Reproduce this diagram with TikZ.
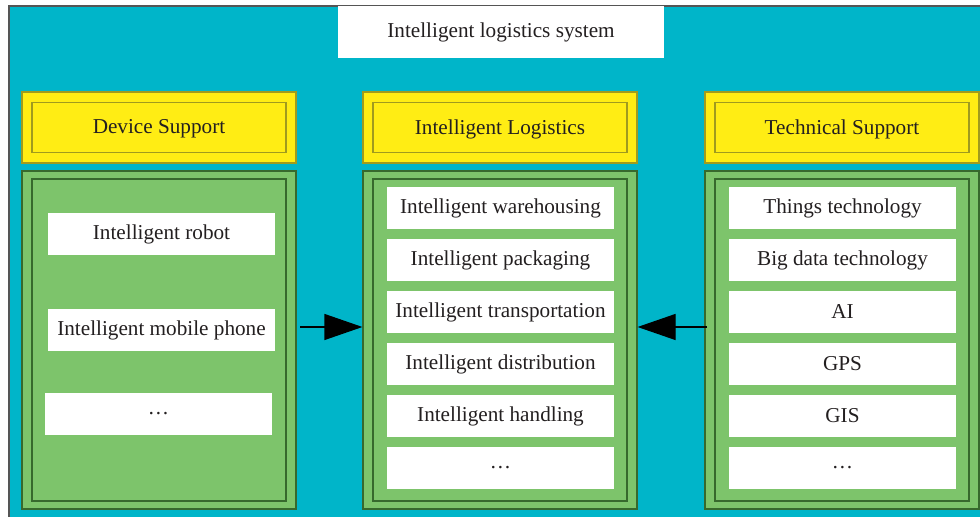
\documentclass[tikz,border=0pt]{standalone}
\usepackage{fontspec}
\setmainfont{Liberation Serif}
\usetikzlibrary{arrows.meta,positioning}

\definecolor{sysblue}{RGB}{0,181,201}
\definecolor{framegray}{RGB}{85,85,85}
\definecolor{headyellow}{RGB}{255,237,20}
\definecolor{headline}{RGB}{160,155,30}
\definecolor{panelgreen}{RGB}{125,196,107}
\definecolor{panelline}{RGB}{55,105,45}
\definecolor{textgray}{RGB}{35,31,32}

\begin{document}
\begin{tikzpicture}[x=0.5pt,y=-0.5pt,
     font=\fontsize{10.6}{12}\selectfont,
     every node/.style={inner sep=0pt,text=textgray},
     head/.style={rectangle,draw=headline,fill=headyellow,line width=0.6pt,minimum width=137pt,minimum height=35.5pt},
     headin/.style={rectangle,draw=headline,line width=0.6pt,minimum width=127pt,minimum height=25pt,text depth=0.6pt},
     panel/.style={rectangle,draw=panelline,fill=panelgreen,line width=0.6pt,minimum width=137pt,minimum height=169pt},
     panelin/.style={rectangle,draw=panelline,line width=0.6pt,minimum width=127pt,minimum height=161pt},
     item/.style={rectangle,fill=white,minimum width=113.5pt,minimum height=21pt,node distance=4.6pt},
     conn/.style={draw=black,line width=0.6pt,-{Triangle[length=19pt,width=13pt]}}]

    \useasboundingbox (0,0) rectangle (980,517);
    \clip (0,0) rectangle (980,517);

    % frame of the whole system
    \draw[draw=framegray,line width=1pt,fill=sysblue] (9,6) rectangle (995,530);

    \node[fill=white,minimum width=163pt,minimum height=26pt] (title) at (501,32.5) {Intelligent logistics system};

    % headings
    \node[head] (devhead) at (159,127.5) {};
    \node[headin] (devheadin) at (devhead.center) {Device Support};

    \node[head] (loghead) at (500,127.5) {};
    \node[headin] (logheadin) at (loghead.center) {Intelligent Logistics};

    \node[head] (techhead) at (842,127.5) {};
    \node[headin] (techheadin) at (techhead.center) {Technical Support};

    % panels
    \node[panel] (devpanel) at (159,340) {};
    \node[panelin] (devpanelin) at (devpanel.center) {};

    \node[panel] (logpanel) at (500,340) {};
    \node[panelin] (logpanelin) at (logpanel.center) {};

    \node[panel] (techpanel) at (842,340) {};
    \node[panelin] (techpanelin) at (techpanel.center) {};

    % device support
    \node[item] (robot) at (161.5,234) {Intelligent robot};
    \node[item] (phone) at (161.5,330) {Intelligent mobile phone};
    \node[item] (devmore) at (158.5,414) {\dots};

    % intelligent logistics
    \node[item] (warehousing) at (500.5,208) {Intelligent warehousing};
    \node[item] (packaging) [below=of warehousing] {Intelligent packaging};
    \node[item] (transport) [below=of packaging] {Intelligent transportation};
    \node[item] (distribution) [below=of transport] {Intelligent distribution};
    \node[item] (handling) [below=of distribution] {Intelligent handling};
    \node[item] (logmore) [below=of handling] {\dots};

    % technical support
    \node[item] (things) at (842.5,208) {Things technology};
    \node[item] (bigdata) [below=of things] {Big data technology};
    \node[item] (ai) [below=of bigdata] {AI};
    \node[item] (gps) [below=of ai] {GPS};
    \node[item] (gis) [below=of gps] {GIS};
    \node[item] (techmore) [below=of gis] {\dots};

    % connectors
    \coordinate (devout) at (300,327);
    \coordinate (techout) at (707,327);
    \draw[conn] (devout) -- (logpanel.west |- devout);
    \draw[conn] (techout) -- (logpanel.east |- techout);

  \end{tikzpicture}
\end{document}
